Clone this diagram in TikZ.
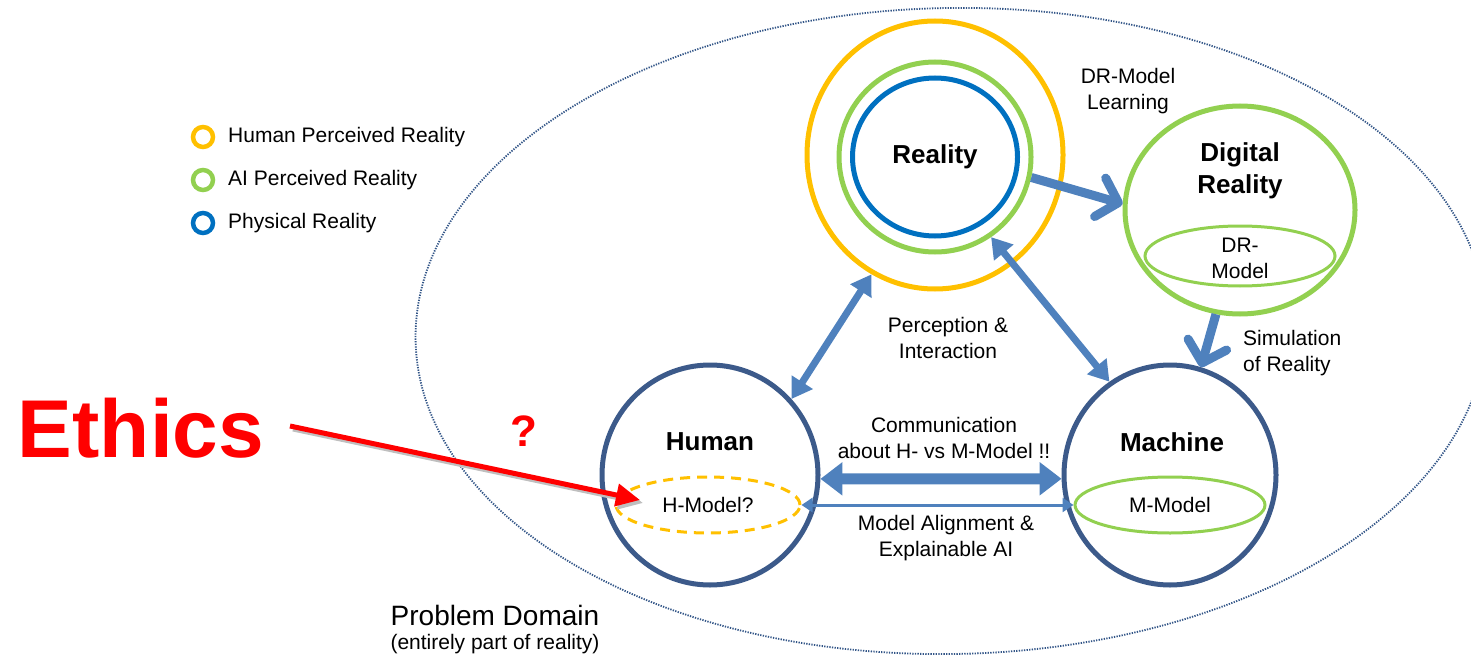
\documentclass[tikz,border=0pt]{standalone}
\usepackage{fontspec}
\setmainfont{Liberation Sans}
\usetikzlibrary{arrows.meta,shapes.geometric}
\definecolor{cOrange}{RGB}{255,192,0}
\definecolor{cGreen}{RGB}{146,208,80}
\definecolor{cBlue}{RGB}{0,112,192}
\definecolor{cDark}{RGB}{60,90,138}
\definecolor{cDot}{RGB}{50,85,135}
\definecolor{cArrow}{RGB}{79,129,189}
\definecolor{cRed}{RGB}{255,0,0}
\begin{document}
\begin{tikzpicture}[x=1pt,y=-1pt,
  ring/.style={draw, ellipse, inner sep=0pt, line width=5pt},
  body/.style={font=\fontsize{21}{26}\selectfont, align=center, inner sep=0pt},
  bigb/.style={font=\fontsize{26}{32}\selectfont\bfseries, align=center, inner sep=0pt},
  legring/.style={draw, circle, line width=4.5pt, minimum size=20pt, inner sep=0pt},
  legtext/.style={font=\fontsize{21}{26}\selectfont, anchor=west, inner sep=0pt},
  duo/.style={draw=cArrow, line width=7pt,
    arrows={Triangle[length=20pt,width=24pt]-Triangle[length=20pt,width=24pt]}},
  chev/.style={draw=cArrow, line width=9pt, -{Straight Barb[length=19pt,width=40pt,round]}},
]
\useasboundingbox (0,0) rectangle (1471,655);

% problem domain
\node[ellipse, draw=cDot, line width=1.8pt, dash pattern=on 1.3pt off 1.3pt, rotate=1,
      minimum width=1071pt, minimum height=646pt, inner sep=0pt] (domain) at (951,331) {};
\node[font=\fontsize{28}{32}\selectfont, inner sep=0pt] (pd) at (495,615) {Problem Domain};
\node[body] (pdsub) at (495,644) {(entirely part of reality)};

% legend
\node[legring, draw=cOrange] (leg1) at (203,137) {};
\node[legring, draw=cGreen] (leg2) at (203,180) {};
\node[legring, draw=cBlue] (leg3) at (203,223) {};
\node[legtext] (legt1) at (228,137) {Human Perceived Reality};
\node[legtext] (legt2) at (228,180) {AI Perceived Reality};
\node[legtext] (legt3) at (228,223) {Physical Reality};

% reality
\node[ring, draw=cOrange, minimum width=256pt, minimum height=268pt] (rOut) at (935,155) {};
\node[ring, draw=cGreen, minimum width=192pt, minimum height=190pt] (rMid) at (935,157) {};
\node[ring, draw=cBlue, minimum width=165pt, minimum height=158pt, bigb] (rIn) at (935,157) {Reality};

% digital reality
\node[ring, draw=cGreen, minimum width=230pt, minimum height=208pt] (dr) at (1240,210) {};
\node[bigb] (drtext) at (1240,171) {Digital\\Reality};
\node[ellipse, draw=cGreen, line width=3pt, minimum width=190pt, minimum height=60pt,
      inner sep=0pt] (drm) at (1240,256) {};
\node[body] (drmtext) at (1240,258) {DR-\\Model};

% human
\node[ring, draw=cDark, minimum width=216pt, minimum height=220pt] (human) at (710,475) {};
\node[bigb] (humantext) at (710,442) {Human};
\node[ellipse, draw=cOrange, line width=3pt, dash pattern=on 10pt off 7pt,
      minimum width=184pt, minimum height=56pt, inner sep=0pt] (hmodel) at (708,505) {};
\node[body] (hmtext) at (708,505) {H-Model?};

% machine
\node[ring, draw=cDark, minimum width=212pt, minimum height=220pt] (machine) at (1170,475) {};
\node[bigb] (machinetext) at (1172,442) {Machine};
\node[ellipse, draw=cGreen, line width=3pt, minimum width=190pt, minimum height=56pt,
      inner sep=0pt] (mmodel) at (1170,505) {};
\node[body] (mmtext) at (1170,505) {M-Model};

% labels
\node[body] (drl) at (1128,91) {DR-Model\\Learning};
\node[body] (perc) at (948,338) {Perception \&\\Interaction};
\node[body, anchor=west, align=left] (sim) at (1243,353) {Simulation\\of Reality};
\node[body] (comm) at (944,438) {Communication\\about H- vs M-Model !!};
\node[body] (alig) at (946,538) {Model Alignment \&\\Explainable AI};

% arrows
\draw[chev] (rMid.-12) -- (dr.177);
\draw[chev] (dr.-103) -- (machine.74);
\draw[duo] (human.43) -- (rOut.242);
\draw[duo] (rMid.-55) -- (machine.123);
\draw[draw=cArrow, line width=11pt,
  arrows={Triangle[length=22pt,width=32pt]-Triangle[length=22pt,width=32pt]}]
  (human.-2) -- (machine.182);
\draw[draw=cArrow, line width=3pt,
  arrows={Triangle[length=11pt,width=14pt]-Triangle[length=11pt,width=14pt]}]
  (hmodel.east) -- (mmodel.west);

% ethics
\node[font=\fontsize{82}{90}\selectfont\bfseries, text=cRed, inner sep=0pt] (ethics) at (141,428) {Ethics};
\node[font=\fontsize{44}{48}\selectfont\bfseries, text=cRed, inner sep=0pt] (qmark) at (524,431) {?};
\coordinate (ethstart) at (290,426);
\coordinate (ethtip) at (640,500);
\draw[draw=black!25, line width=5pt, -{Triangle[length=24pt,width=22pt]}]
  ([shift={(3,3)}]ethstart) -- ([shift={(3,3)}]ethtip);
\draw[draw=cRed, line width=5pt, -{Triangle[length=24pt,width=22pt]}] (ethstart) -- (ethtip);
\end{tikzpicture}
\end{document}
